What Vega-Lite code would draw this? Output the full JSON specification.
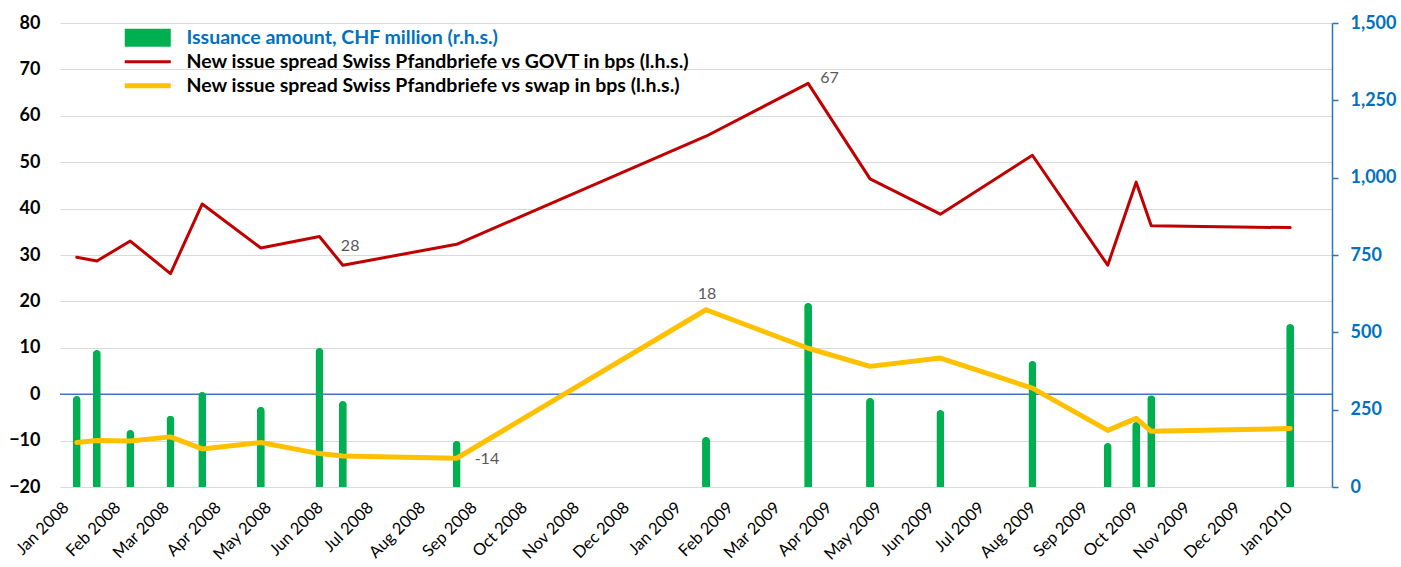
{
  "$schema": "https://vega.github.io/schema/vega-lite/v6.json",
  "autosize": {"type": "none"},
  "padding": {"left": 60, "top": 23, "right": 69, "bottom": 80},
  "width": 1272,
  "height": 464,
  "background": "white",
  "config": {
    "font": "Lato",
    "view": {"stroke": null},
    "axisX": {
      "domain": false,
      "ticks": false,
      "grid": false,
      "labelAngle": -45,
      "labelFont": "Lato",
      "labelFontSize": 16.5,
      "labelColor": "#000000",
      "labelPadding": 12,
      "labelOverlap": false,
      "title": null
    }
  },
  "datasets": {
    "rows": [
      {"date": "2008-01-11", "amount": 294, "govt": 29.5, "swap": -10.4, "govt_note": "", "swap_note": ""},
      {"date": "2008-01-23", "amount": 443, "govt": 28.7, "swap": -10.0, "govt_note": "", "swap_note": ""},
      {"date": "2008-02-12", "amount": 184, "govt": 33.0, "swap": -10.1, "govt_note": "", "swap_note": ""},
      {"date": "2008-03-07", "amount": 230, "govt": 26.0, "swap": -9.2, "govt_note": "", "swap_note": ""},
      {"date": "2008-03-26", "amount": 307, "govt": 41.0, "swap": -11.8, "govt_note": "", "swap_note": ""},
      {"date": "2008-04-30", "amount": 259, "govt": 31.5, "swap": -10.4, "govt_note": "", "swap_note": ""},
      {"date": "2008-06-04", "amount": 449, "govt": 34.0, "swap": -12.8, "govt_note": "", "swap_note": ""},
      {"date": "2008-06-18", "amount": 278, "govt": 27.8, "swap": -13.3, "govt_note": "28", "swap_note": ""},
      {"date": "2008-08-25", "amount": 149, "govt": 32.3, "swap": -13.8, "govt_note": "", "swap_note": "-14"},
      {"date": "2009-01-21", "amount": 162, "govt": 55.6, "swap": 18.2, "govt_note": "", "swap_note": "18"},
      {"date": "2009-03-23", "amount": 595, "govt": 67.0, "swap": 9.9, "govt_note": "67", "swap_note": ""},
      {"date": "2009-04-29", "amount": 288, "govt": 46.4, "swap": 6.0, "govt_note": "", "swap_note": ""},
      {"date": "2009-06-10", "amount": 249, "govt": 38.8, "swap": 7.8, "govt_note": "", "swap_note": ""},
      {"date": "2009-08-04", "amount": 407, "govt": 51.5, "swap": 1.3, "govt_note": "", "swap_note": ""},
      {"date": "2009-09-18", "amount": 142, "govt": 27.8, "swap": -7.8, "govt_note": "", "swap_note": ""},
      {"date": "2009-10-05", "amount": 210, "govt": 45.7, "swap": -5.2, "govt_note": "", "swap_note": ""},
      {"date": "2009-10-14", "amount": 297, "govt": 36.3, "swap": -8.0, "govt_note": "", "swap_note": ""},
      {"date": "2010-01-05", "amount": 527, "govt": 35.9, "swap": -7.4, "govt_note": "", "swap_note": ""}
    ],
    "zero": [{"level": 0}]
  },
  "data": {"name": "rows"},
  "resolve": {"scale": {"y": "independent"}, "axis": {"y": "independent"}},
  "layer": [
    {
      "data": {"name": "zero"},
      "mark": {"type": "rule", "color": "#4472C4", "strokeWidth": 1.5},
      "encoding": {
        "y": {
          "field": "level", "type": "quantitative",
          "scale": {"domain": [-20, 80], "nice": false, "zero": false},
          "axis": {
            "orient": "left", "values": [-20, -10, 0, 10, 20, 30, 40, 50, 60, 70, 80],
            "domain": false, "ticks": false, "grid": true, "gridColor": "#D9D9D9", "gridWidth": 1,
            "labelFont": "Lato", "labelFontSize": 18, "labelFontWeight": "bold", "labelColor": "#000000",
            "labelPadding": 20, "title": null
          }
        }
      }
    },
    {
      "mark": {"type": "bar", "width": 8, "cornerRadiusEnd": 4},
      "encoding": {
        "x": {
          "field": "date", "type": "temporal",
          "scale": {"type": "utc", "nice": false, "padding": 0, "domain": [{"year": 2008, "month": 1, "date": 1, "utc": true}, {"year": 2010, "month": 1, "date": 30, "utc": true}]},
          "axis": {"format": "%b %Y", "tickCount": {"interval": "month", "step": 1}}
        },
        "y": {
          "field": "amount", "type": "quantitative",
          "scale": {"domain": [0, 1500], "nice": false},
          "axis": {
            "orient": "right", "values": [0, 250, 500, 750, 1000, 1250, 1500], "format": ",d",
            "domain": true, "domainColor": "#2E75B6", "domainWidth": 1.5,
            "ticks": true, "tickColor": "#2E75B6", "tickSize": 6, "tickWidth": 1.5,
            "grid": false,
            "labelFont": "Lato", "labelFontSize": 18, "labelFontWeight": "bold", "labelColor": "#0070C0",
            "labelPadding": 12, "title": null
          }
        },
        "color": {
          "datum": "Issuance amount, CHF million (r.h.s.)",
          "scale": {
            "domain": ["Issuance amount, CHF million (r.h.s.)", "New issue spread Swiss Pfandbriefe vs GOVT in bps (l.h.s.)", "New issue spread Swiss Pfandbriefe  vs swap in bps (l.h.s.)"],
            "range": ["#00B050", "#C00000", "#FFC000"]
          },
          "legend": {
            "orient": "none", "legendX": 65, "legendY": 5, "title": null,
            "symbolSize": 400, "rowPadding": 3, "labelOffset": 42, "labelLimit": 900,
            "labelFont": "Lato", "labelFontSize": 19.5, "labelFontWeight": "bold", "labelColor": "#000000",
            "encode": {
              "symbols": {"update": {
                "shape": {"signal": "datum.index === 0 ? 'M-1,-0.9H3.6V0.9H-1Z' : 'M-1,0H3.6'"},
                "fill": {"signal": "datum.index === 0 ? '#00B050' : 'transparent'"},
                "stroke": {"signal": "datum.index === 0 ? '#00B050' : (datum.index === 1 ? '#C00000' : '#FFC000')"},
                "strokeWidth": {"signal": "datum.index === 0 ? 0 : (datum.index === 1 ? 3 : 5)"},
                "size": {"value": 400},
                "opacity": {"value": 1}
              }},
              "labels": {"update": {
                "fill": {"signal": "datum.index === 0 ? '#0070C0' : '#000000'"}
              }}
            }
          }
        }
      }
    },
    {
      "mark": {"type": "line", "strokeWidth": 3, "strokeJoin": "round", "strokeCap": "round"},
      "encoding": {
        "x": {"field": "date", "type": "temporal", "scale": {"type": "utc", "nice": false, "padding": 0, "domain": [{"year": 2008, "month": 1, "date": 1, "utc": true}, {"year": 2010, "month": 1, "date": 30, "utc": true}]}},
        "y": {"field": "govt", "type": "quantitative", "scale": {"domain": [-20, 80], "nice": false, "zero": false}, "axis": null},
        "color": {"datum": "New issue spread Swiss Pfandbriefe vs GOVT in bps (l.h.s.)"}
      }
    },
    {
      "mark": {"type": "line", "strokeWidth": 5, "strokeJoin": "round", "strokeCap": "round"},
      "encoding": {
        "x": {"field": "date", "type": "temporal", "scale": {"type": "utc", "nice": false, "padding": 0, "domain": [{"year": 2008, "month": 1, "date": 1, "utc": true}, {"year": 2010, "month": 1, "date": 30, "utc": true}]}},
        "y": {"field": "swap", "type": "quantitative", "scale": {"domain": [-20, 80], "nice": false, "zero": false}, "axis": null},
        "color": {"datum": "New issue spread Swiss Pfandbriefe  vs swap in bps (l.h.s.)"}
      }
    },
    {
      "transform": [{"filter": "datum.govt_note == '28'"}],
      "mark": {"type": "text", "align": "left", "baseline": "middle", "dx": -2, "dy": -19, "fontSize": 16, "color": "#595959"},
      "encoding": {
        "x": {"field": "date", "type": "temporal", "scale": {"type": "utc", "nice": false, "padding": 0, "domain": [{"year": 2008, "month": 1, "date": 1, "utc": true}, {"year": 2010, "month": 1, "date": 30, "utc": true}]}},
        "y": {"field": "govt", "type": "quantitative", "scale": {"domain": [-20, 80], "nice": false, "zero": false}, "axis": null},
        "text": {"field": "govt_note"}
      }
    },
    {
      "transform": [{"filter": "datum.govt_note == '67'"}],
      "mark": {"type": "text", "align": "left", "baseline": "middle", "dx": 12, "dy": -5, "fontSize": 16, "color": "#595959"},
      "encoding": {
        "x": {"field": "date", "type": "temporal", "scale": {"type": "utc", "nice": false, "padding": 0, "domain": [{"year": 2008, "month": 1, "date": 1, "utc": true}, {"year": 2010, "month": 1, "date": 30, "utc": true}]}},
        "y": {"field": "govt", "type": "quantitative", "scale": {"domain": [-20, 80], "nice": false, "zero": false}, "axis": null},
        "text": {"field": "govt_note"}
      }
    },
    {
      "transform": [{"filter": "datum.swap_note == '18'"}],
      "mark": {"type": "text", "align": "center", "baseline": "middle", "dx": 1, "dy": -16, "fontSize": 16, "color": "#595959"},
      "encoding": {
        "x": {"field": "date", "type": "temporal", "scale": {"type": "utc", "nice": false, "padding": 0, "domain": [{"year": 2008, "month": 1, "date": 1, "utc": true}, {"year": 2010, "month": 1, "date": 30, "utc": true}]}},
        "y": {"field": "swap", "type": "quantitative", "scale": {"domain": [-20, 80], "nice": false, "zero": false}, "axis": null},
        "text": {"field": "swap_note"}
      }
    },
    {
      "transform": [{"filter": "datum.swap_note == '-14'"}],
      "mark": {"type": "text", "align": "left", "baseline": "middle", "dx": 18, "dy": 1, "fontSize": 16, "color": "#595959"},
      "encoding": {
        "x": {"field": "date", "type": "temporal", "scale": {"type": "utc", "nice": false, "padding": 0, "domain": [{"year": 2008, "month": 1, "date": 1, "utc": true}, {"year": 2010, "month": 1, "date": 30, "utc": true}]}},
        "y": {"field": "swap", "type": "quantitative", "scale": {"domain": [-20, 80], "nice": false, "zero": false}, "axis": null},
        "text": {"field": "swap_note"}
      }
    }
  ]
}
